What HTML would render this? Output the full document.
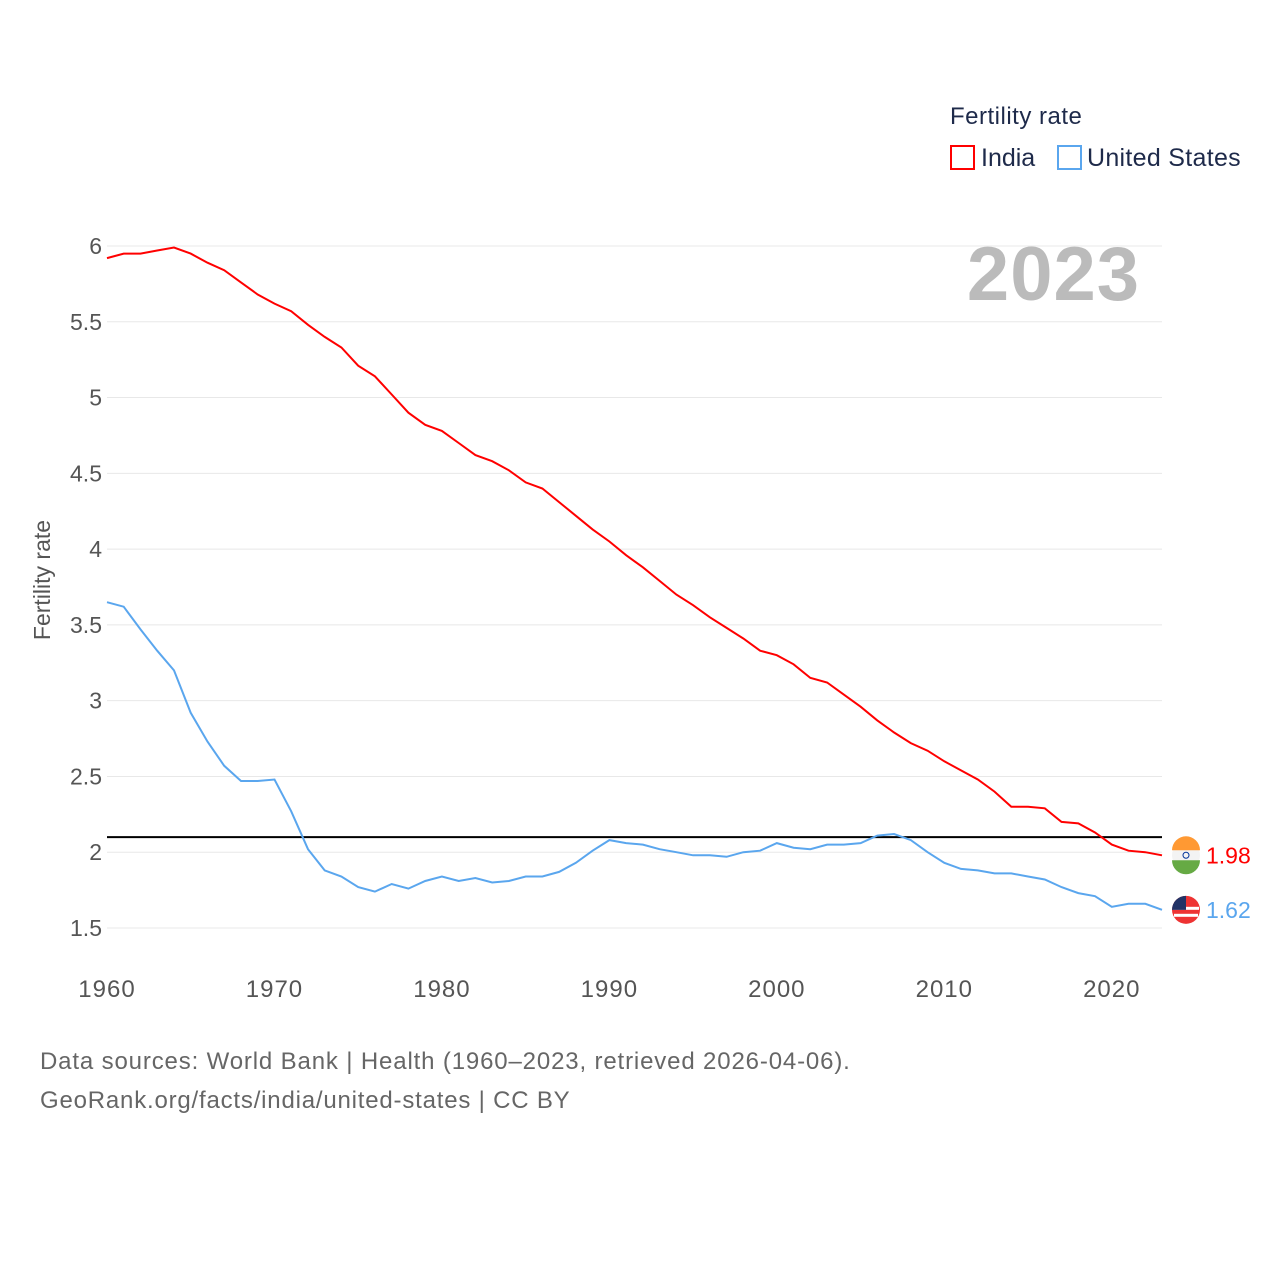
<!DOCTYPE html>
<html><head><meta charset="utf-8"><style>
body{margin:0;background:#fff;font-family:"Liberation Sans",sans-serif;}
svg{display:block}
</style></head><body>
<svg id="chart" width="1280" height="1280">
<text x="950" y="124" font-size="24" fill="#1e2a4a" letter-spacing="0.5">Fertility rate</text>
<g><rect x="951" y="146" width="23" height="23" fill="none" stroke="#f00" stroke-width="2"/><text x="981" y="166" font-size="25" fill="#1e2a4a">India</text></g>
<g><rect x="1058" y="146" width="23" height="23" fill="none" stroke="#5aa6ee" stroke-width="2"/><text x="1087" y="166" font-size="25" fill="#1e2a4a" letter-spacing="0.3">United States</text></g>
<text x="1140" y="300" font-size="76" font-weight="bold" fill="#bbb" text-anchor="end" letter-spacing="1">2023</text>
<text transform="translate(50,580) rotate(-90)" font-size="23" fill="#555" text-anchor="middle">Fertility rate</text>
<g id="grid"></g><g id="series"></g>
<text x="40" y="1069" font-size="24" fill="#666" letter-spacing="0.85">Data sources: World Bank | Health (1960–2023, retrieved 2026-04-06).</text>
<text x="40" y="1108" font-size="24" fill="#666" letter-spacing="0.8">GeoRank.org/facts/india/united-states | CC BY</text>
</svg>
<script>
const years=[];for(let y=1960;y<=2023;y++)years.push(y);
const india=[5.92,5.95,5.95,5.97,5.99,5.95,5.89,5.84,5.76,5.68,5.62,5.57,5.48,5.40,5.33,5.21,5.14,5.02,4.90,4.82,4.78,4.70,4.62,4.58,4.52,4.44,4.40,4.31,4.22,4.13,4.05,3.96,3.88,3.79,3.70,3.63,3.55,3.48,3.41,3.33,3.30,3.24,3.15,3.12,3.04,2.96,2.87,2.79,2.72,2.67,2.60,2.54,2.48,2.40,2.30,2.30,2.29,2.20,2.19,2.13,2.05,2.01,2.00,1.98];
const us=[3.65,3.62,3.47,3.33,3.20,2.92,2.73,2.57,2.47,2.47,2.48,2.27,2.02,1.88,1.84,1.77,1.74,1.79,1.76,1.81,1.84,1.81,1.83,1.80,1.81,1.84,1.84,1.87,1.93,2.01,2.08,2.06,2.05,2.02,2.00,1.98,1.98,1.97,2.00,2.01,2.06,2.03,2.02,2.05,2.05,2.06,2.11,2.12,2.08,2.00,1.93,1.89,1.88,1.86,1.86,1.84,1.82,1.77,1.73,1.71,1.64,1.66,1.66,1.62];
const yTicks=[1.5,2,2.5,3,3.5,4,4.5,5,5.5,6];
const xTicks=[1960,1970,1980,1990,2000,2010,2020];
const refValue=2.1;
const NS="http://www.w3.org/2000/svg";
const X=y=>107+(y-1960)*(1162-107)/63;
const Y=v=>246+(6-v)*(928-246)/4.5;
function mk(t,a,p){const e=document.createElementNS(NS,t);for(const k in a)e.setAttribute(k,a[k]);p.appendChild(e);return e;}
const g=document.getElementById('grid'),s=document.getElementById('series');
yTicks.forEach(v=>{
 const l=mk('line',{x1:107,x2:1162,y1:Y(v),y2:Y(v),stroke:'#e8e8e8','stroke-width':1},g);
 
 
 const t=mk('text',{x:102,y:Y(v)+8,'font-size':23,fill:'#555','text-anchor':'end'},g);t.textContent=v;
 
 
});
xTicks.forEach(v=>{
 const t=mk('text',{x:X(v),y:997,'font-size':24,fill:'#555','text-anchor':'middle','letter-spacing':1},g);t.textContent=v;
 
 
});
const rl=mk('line',{x1:107,x2:1162,y1:Y(refValue),y2:Y(refValue),stroke:'#000','stroke-width':2},g);


function series(d,c,name){
 const p=mk('path',{d:d.map((v,i)=>(i?'L':'M')+X(years[i]).toFixed(1)+','+Y(v).toFixed(1)).join(''),fill:'none',stroke:c,'stroke-width':2},s);
 
 
 const last=d[d.length-1],cx=1186,cy=Y(last);
 const f=mk('circle',{cx:cx,cy:cy,r:14,fill:name==='india'?'#f3f3f3':'#e33'},s);
 
 
 if(name==='india'){mk('path',{d:`M${cx-14},${cy-5}A14,14 0 0 1 ${cx+14},${cy-5}Z`,fill:'#f93'},s);mk('path',{d:`M${cx-14},${cy+5}A14,14 0 0 0 ${cx+14},${cy+5}Z`,fill:'#6a4'},s);mk('circle',{cx:cx,cy:cy,r:3,fill:'none',stroke:'#039'},s);}
 else{mk('rect',{x:cx-13,y:cy-3,width:26,height:3,fill:'#fff'},s);mk('rect',{x:cx-12,y:cy+4,width:24,height:3,fill:'#fff'},s);mk('path',{d:`M${cx-14},${cy}A14,14 0 0 1 ${cx},${cy-14}V${cy}Z`,fill:'#236'},s);}
 const t=mk('text',{x:1206,y:cy+8,'font-size':23,fill:c},s);t.textContent=last.toFixed(2);
 
 
}
series(india,'#f00','india');series(us,'#5aa6ee','united-states');
</script>
</body></html>
